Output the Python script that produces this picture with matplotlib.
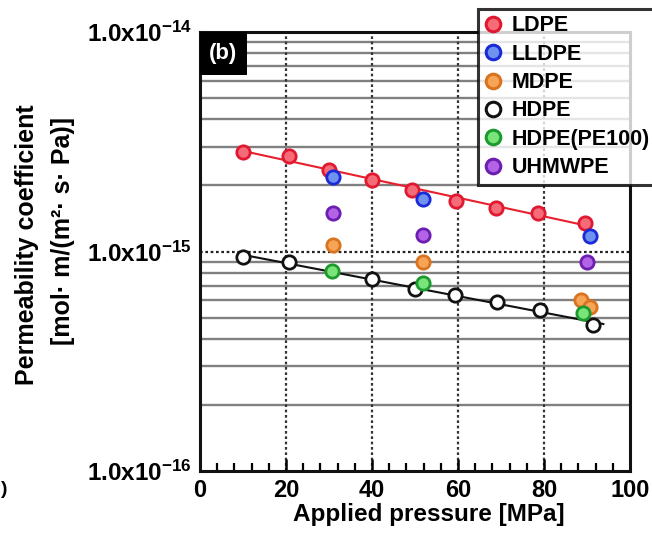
import numpy as np
import matplotlib
matplotlib.use("Agg")
import matplotlib.pyplot as plt
from matplotlib.ticker import FixedLocator, FuncFormatter, MultipleLocator
from matplotlib.patches import Rectangle
from matplotlib.lines import Line2D

plt.rcParams['font.family'] = ['Liberation Sans', 'DejaVu Sans']
plt.rcParams['font.weight'] = 'bold'
plt.rcParams['mathtext.fontset'] = 'custom'
plt.rcParams['mathtext.rm'] = 'Liberation Sans:bold'
plt.rcParams['mathtext.bf'] = 'Liberation Sans:bold'
plt.rcParams['mathtext.it'] = 'Liberation Sans:bold'

# ---------------- data ----------------
ldpe_x = [10.1, 20.6, 30.1, 40.1, 49.4, 59.6, 68.9, 78.5, 89.6]
ldpe_y = [2.84e-15, 2.72e-15, 2.35e-15, 2.12e-15, 1.91e-15, 1.70e-15, 1.58e-15, 1.50e-15, 1.35e-15]

lldpe_x = [31.0, 51.9, 90.7]
lldpe_y = [2.19e-15, 1.74e-15, 1.18e-15]

mdpe_x = [31.0, 51.9, 88.7, 90.6]
mdpe_y = [1.07e-15, 8.95e-16, 6.0e-16, 5.6e-16]

hdpe_x = [10.1, 20.6, 39.9, 50.1, 59.4, 69.0, 79.0, 91.3]
hdpe_y = [9.44e-16, 8.95e-16, 7.5e-16, 6.75e-16, 6.33e-16, 5.89e-16, 5.42e-16, 4.63e-16]

pe100_x = [30.7, 51.9, 89.0]
pe100_y = [8.15e-16, 7.19e-16, 5.25e-16]

uhmw_x = [31.0, 51.9, 89.9]
uhmw_y = [1.50e-15, 1.19e-15, 8.95e-16]

labels = ['LDPE', 'LLDPE', 'MDPE', 'HDPE', 'HDPE(PE100)', 'UHMWPE']
x_ticks = [0, 20, 40, 60, 80, 100]
y_ticks = [1e-16, 1e-15, 1e-14]

# ---------------- style ----------------
styles = {
    'LDPE': dict(fc='#f56b78', ec='#e01830'),
    'LLDPE': dict(fc='#6f92ee', ec='#1a2ad8'),
    'MDPE': dict(fc='#f7a457', ec='#d8731f'),
    'HDPE': dict(fc='white', ec='#111111'),
    'HDPE(PE100)': dict(fc='#78e47a', ec='#1d9a2e'),
    'UHMWPE': dict(fc='#b263e6', ec='#6c1eb0'),
}

fig = plt.figure(figsize=(6.52, 5.34), dpi=100)
ax = fig.add_axes([200/652, 63/534, 430/652, 439/534])
ax.set_yscale('log')
ax.set_xlim(0, 100)
ax.set_ylim(1e-16, 1e-14)

# grid lines
for d in (1e-16, 1e-15):
    for m in range(2, 10):
        ax.axhline(m*d, color='#808080', lw=1.7, zorder=1)
ax.axhline(1e-15, color='#222222', lw=1.6, ls=(0, (1.2, 1.2)), zorder=1.5)
for xv in [20, 40, 60, 80]:
    ax.axvline(xv, color='#333333', lw=1.6, ls=(0, (1.2, 1.2)), zorder=1.5)

# fit lines
def fit_line(xs, ys, x0, x1, color):
    p = np.polyfit(np.array(xs), np.log10(np.array(ys)), 1)
    xx = np.array([x0, x1])
    ax.plot(xx, 10**np.polyval(p, xx), color=color, lw=1.5, zorder=2)

fit_line(ldpe_x, ldpe_y, min(ldpe_x), max(ldpe_x), '#e8202e')
fit_line(hdpe_x, hdpe_y, min(hdpe_x), max(hdpe_x) + 2.5, '#111111')

ms = 9.6
mew = 2.0
series = [
    ('LDPE', ldpe_x, ldpe_y),
    ('LLDPE', lldpe_x, lldpe_y),
    ('MDPE', mdpe_x, mdpe_y),
    ('HDPE', hdpe_x, hdpe_y),
    ('HDPE(PE100)', pe100_x, pe100_y),
    ('UHMWPE', uhmw_x, uhmw_y),
]
z = {'LDPE': 4, 'LLDPE': 5, 'MDPE': 4, 'HDPE': 3, 'HDPE(PE100)': 5, 'UHMWPE': 4}
for name, xs, ys in series:
    st = styles[name]
    ax.plot(xs, ys, ls='none', marker='o', ms=ms, mfc=st['fc'], mec=st['ec'],
            mew=mew, zorder=z[name])

# axes styling
for s in ax.spines.values():
    s.set_linewidth(2.2)
    s.set_color('#111111')
    s.set_zorder(6)

ax.xaxis.set_major_locator(FixedLocator(x_ticks))
ax.xaxis.set_minor_locator(MultipleLocator(4))
ax.tick_params(axis='x', which='major', direction='in', length=9, width=1.8,
               labelsize=17, pad=6, top=False)
ax.tick_params(axis='x', which='minor', direction='in', length=6, width=1.6, top=False)
ax.set_xticklabels([str(v) for v in x_ticks], fontweight='bold')

ax.yaxis.set_major_locator(FixedLocator(y_ticks))
ax.yaxis.set_minor_locator(FixedLocator([]))
def yfmt(v, pos):
    e = int(round(np.log10(v)))
    return r'$\mathrm{1.0x10}^{\mathrm{%d}}$' % e
ax.yaxis.set_major_formatter(FuncFormatter(yfmt))
ax.tick_params(axis='y', which='major', length=0, labelsize=17.5, pad=6)

ax.set_xlabel('Applied pressure [MPa]', fontsize=17.5, fontweight='bold', va='center')
ax.xaxis.set_label_coords(229/430, -44/439)

fig.text(27.5/652, 1 - 245/534, 'Permeability coefficient', rotation=90,
         fontsize=18, fontweight='bold', ha='center', va='center')
fig.text(63/652, 1 - 231/534, '[mol· m/(m²· s· Pa)]', rotation=90,
         fontsize=18, fontweight='bold', ha='center', va='center')
fig.text(0.5/652, 1 - 490/534, ')', fontsize=14, fontweight='bold', ha='left', va='center')

# (b) label
ax.add_patch(Rectangle((0, 1 - 43/439), 47/430, 43/439, transform=ax.transAxes,
                       facecolor='black', edgecolor='none', zorder=7, clip_on=False))
ax.text(23.5/430, 1 - 21/439, '(b)', transform=ax.transAxes, color='white',
        fontsize=16, fontweight='bold', ha='center', va='center', zorder=8)

# legend
handles = [Line2D([], [], ls='none', marker='o', ms=10.5, mfc=styles[n]['fc'],
                  mec=styles[n]['ec'], mew=2.2) for n in labels]
leg = fig.legend(handles, labels, loc='upper left',
                 bbox_to_anchor=(478/652, 1 - 9/534),
                 fontsize=15.5, frameon=True, fancybox=False, handlelength=0.8,
                 handletextpad=0.45, borderpad=0.3, labelspacing=0.34,
                 borderaxespad=0)
leg.get_frame().set_edgecolor('black')
leg.get_frame().set_linewidth(2.2)
leg.set_zorder(10)
for t in leg.get_texts():
    t.set_fontweight('bold')

fig.savefig('out.png', dpi=100)
